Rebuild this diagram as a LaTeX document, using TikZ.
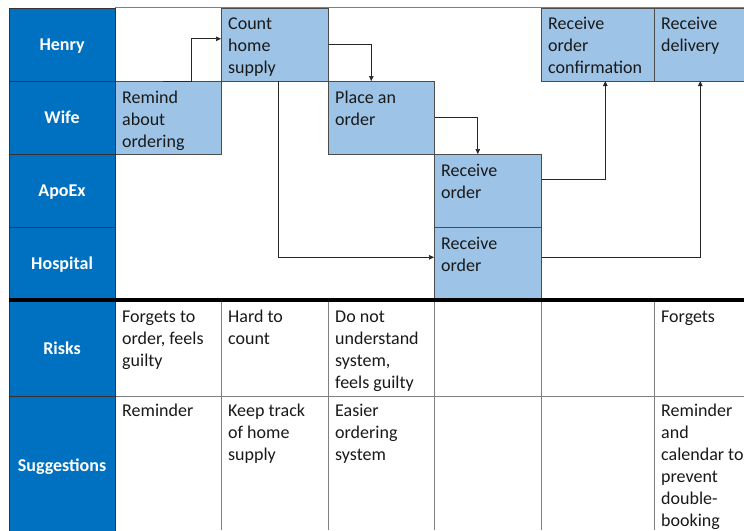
\documentclass[tikz,border=0pt]{standalone}
\usepackage{fontspec}
\setmainfont{Carlito}
\usetikzlibrary{arrows.meta}
\definecolor{hdblue}{HTML}{0070C0}
\definecolor{stepblue}{HTML}{9DC3E6}
\definecolor{gridgray}{HTML}{7F7F7F}
\begin{document}
\begin{tikzpicture}[x=1pt,y=-1pt,
  lanehead/.style={draw=black!80, line width=0.6pt, fill=hdblue, text=white,
    font=\fontsize{18}{22}\selectfont\bfseries, anchor=north west,
    minimum width=106.5pt, inner sep=0pt, text height=12pt, text depth=0pt},
  stepbox/.style={draw=black!70, line width=0.6pt, fill=stepblue,
    anchor=north west, inner sep=0pt, minimum height=73pt},
  txt/.style={anchor=north west, inner xsep=7pt, inner ysep=6.5pt, align=left,
    font=\fontsize{18}{22}\selectfont, text=black!90},
  gridline/.style={draw=gridgray, line width=0.6pt},
  arr/.style={draw=black!85, line width=0.7pt, -{Triangle[length=5pt,width=4.5pt]}}
]
\path[use as bounding box] (0,0) rectangle (744,530);
\clip (0,0) rectangle (744,530);
\fill[white] (0,0) rectangle (744,530);

% top border of the swimlane area
\draw[gridline] (115,7.5) -- (744,7.5);

% process steps
\node[stepbox, minimum width=106pt] (remind) at (115,81) {};
\node[stepbox, minimum width=107pt] (count)  at (221,7.5) {};
\node[stepbox, minimum width=106pt] (place)  at (328,81) {};
\node[stepbox, minimum width=107pt] (recvA)  at (434,154) {};
\node[stepbox, minimum width=107pt] (recvH)  at (434,227) {};
\node[stepbox, minimum width=113pt] (conf)   at (541,7.5) {};
\node[stepbox, minimum width=92pt]  (deliv)  at (654,7.5) {};

\node[txt] (tremind) at (remind.north west) {\strut Remind\\about\\ordering};
\node[txt] (tcount)  at (count.north west)  {\strut Count\\home\\supply};
\node[txt] (tplace)  at (place.north west)  {\strut Place an\\order};
\node[txt] (trecvA)  at (recvA.north west)  {\strut Receive\\order};
\node[txt] (trecvH)  at (recvH.north west)  {\strut Receive\\order};
\node[txt] (tconf)   at (conf.north west)   {\strut Receive\\order\\confirmation};
\node[txt] (tdeliv)  at (deliv.north west)  {\strut Receive\\delivery};

% flow between steps
\draw[arr] ([xshift=-5pt]remind.north) -- ++(28,0) |- ([yshift=5.5pt]count.west);
\draw[arr] (count.east) -| ([xshift=-10pt]place.north);
\draw[arr] (place.east) -| ([xshift=-10pt]recvA.north);
\draw[arr] ([xshift=3.5pt]count.south) |- ([yshift=6.5pt]recvH.west);
\draw[arr] ([yshift=11.5pt]recvA.east) -| ([xshift=7.5pt]conf.south);
\draw[arr] ([yshift=6.5pt]recvH.east) -| (deliv.south);

% lower table grid
\foreach \gx in {221,328,434,541,654} \draw[gridline] (\gx,300) -- (\gx,530);
\draw[gridline] (115,396) -- (744,396);

% row headers
\node[lanehead, minimum height=73.5pt] (henry)    at (8.5,7.5) {Henry};
\node[lanehead, minimum height=73pt]   (wife)     at (8.5,81)  {Wife};
\node[lanehead, minimum height=73pt]   (apoex)    at (8.5,154) {ApoEx};
\node[lanehead, minimum height=73pt]   (hospital) at (8.5,227) {Hospital};
\node[lanehead, minimum height=96pt]   (risks)    at (8.5,300) {Risks};
\node[lanehead, minimum height=138pt]  (sugg)     at (8.5,396) {Suggestions};

% separator between the swimlanes and the table
\draw[line width=4pt] (8.5,300) -- (744,300);

% risks
\node[txt] (risk1) at (115,300) {\strut Forgets to\\order, feels\\guilty};
\node[txt] (risk2) at (221,300) {\strut Hard to\\count};
\node[txt] (risk3) at (328,300) {\strut Do not\\understand\\system,\\feels guilty};
\node[txt] (risk6) at (654,300) {\strut Forgets};

% suggestions
\node[txt] (sug1) at (115,394) {\strut Reminder};
\node[txt] (sug2) at (221,394) {\strut Keep track\\of home\\supply};
\node[txt] (sug3) at (328,394) {\strut Easier\\ordering\\system};
\node[txt] (sug6) at (654,394) {\strut Reminder\\and\\calendar to\\prevent\\double-\\booking};
\end{tikzpicture}
\end{document}
